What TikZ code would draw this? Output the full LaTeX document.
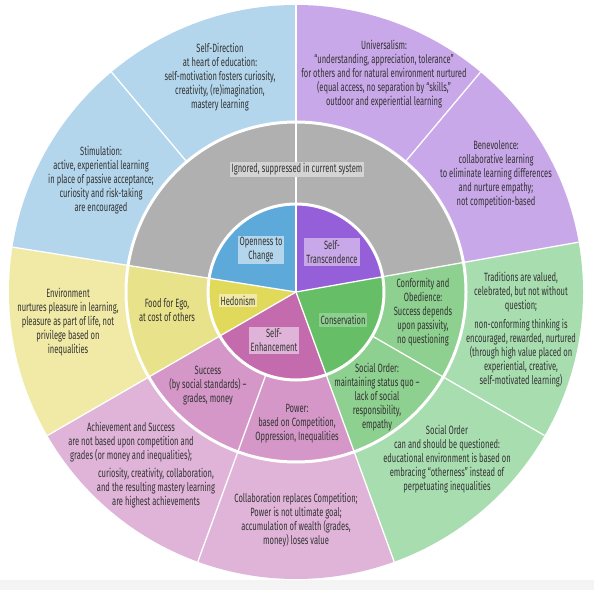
\documentclass[tikz,border=0pt]{standalone}
\usepackage{fontspec}
\setmainfont[FakeStretch=0.63]{Fira Sans}
\definecolor{blueO}{HTML}{B3D6EC}
\definecolor{blueI}{HTML}{5DA9DA}
\definecolor{grayM}{HTML}{B0B0B0}
\definecolor{grayBox}{HTML}{D4D4D4}
\definecolor{purO}{HTML}{C9A8E9}
\definecolor{purI}{HTML}{955FD9}
\definecolor{grnO}{HTML}{A8DDB0}
\definecolor{grnM}{HTML}{8DD08F}
\definecolor{grnI}{HTML}{66BF66}
\definecolor{yelO}{HTML}{F0EAA6}
\definecolor{yelM}{HTML}{E8E28A}
\definecolor{yelI}{HTML}{E1D95A}
\definecolor{pnkO}{HTML}{DFB4D8}
\definecolor{pnkM}{HTML}{D497C8}
\definecolor{pnkI}{HTML}{C46BAE}
\definecolor{txt}{HTML}{333333}
\definecolor{band}{HTML}{F4F4F4}
\newcommand{\ringsec}[5]{\fill[#1] (#2:#4) arc[start angle=#2, end angle=#3, radius=#4] -- (#3:#5) arc[start angle=#3, end angle=#2, radius=#5] -- cycle;}
\newcommand{\piesec}[4]{\fill[#1] (0,0) -- (#2:#4) arc[start angle=#2, end angle=#3, radius=#4] -- cycle;}
\begin{document}
\begin{tikzpicture}[x=1pt,y=1pt,
  lbl/.style={align=center, text=txt, font=\fontsize{12}{14}\selectfont, inner sep=1pt},
  boxlbl/.style={lbl, inner sep=2pt},
  sep/.style={white, line width=1.3pt},
  ringline/.style={white, line width=3pt}]
\useasboundingbox (0,0) rectangle (594,590);
\fill[white] (0,0) rectangle (594,590);
\fill[band] (0,0) rectangle (594,10);
\begin{scope}[shift={(296,298)}]
% outer ring
\ringsec{blueO}{90}{130}{170}{287}
\ringsec{blueO}{130}{171}{170}{287}
\ringsec{yelO}{171}{210}{170}{287}
\ringsec{pnkO}{210}{250}{170}{287}
\ringsec{pnkO}{250}{290}{170}{287}
\ringsec{grnO}{290}{330}{170}{287}
\ringsec{grnO}{330}{370}{170}{287}
\ringsec{purO}{10}{50}{170}{287}
\ringsec{purO}{50}{90}{170}{287}
% middle ring
\ringsec{grayM}{10}{171}{88}{170}
\ringsec{yelM}{171}{210}{88}{170}
\ringsec{pnkM}{210}{250}{88}{170}
\ringsec{pnkM}{250}{290}{88}{170}
\ringsec{grnM}{290}{330}{88}{170}
\ringsec{grnM}{330}{370}{88}{170}
% inner pie
\piesec{blueI}{90}{171}{88}
\piesec{yelI}{171}{210}{88}
\piesec{pnkI}{210}{290}{88}
\piesec{grnI}{290}{370}{88}
\piesec{purI}{10}{90}{88}
% separators
\foreach \a in {90,171,210,290,10} \draw[sep] (0,0) -- (\a:287);
\foreach \a in {250,330} \draw[sep] (\a:88) -- (\a:287);
\foreach \a in {130,50} \draw[sep] (\a:170) -- (\a:287);
\draw[ringline] (0,0) circle[radius=88];
\draw[ringline] (0,0) circle[radius=170];
\end{scope}
% outer texts
\node[lbl] (selfdir) at (220,513) {Self-Direction\\at heart of education:\\self-motivation fosters curiosity,\\creativity, (re)imagination,\\mastery learning};
\node[lbl] (stim) at (101,410) {Stimulation:\\active, experiential learning\\in place of passive acceptance;\\curiosity and risk-taking\\are encouraged};
\node[lbl] (univ) at (384,516) {Universalism:\\``understanding, appreciation, tolerance''\\for others and for natural environment nurtured\\(equal access, no separation by ``skills,''\\outdoor and experiential learning};
\node[lbl] (benev) at (496,416) {Benevolence:\\collaborative learning\\to eliminate learning differences\\and nurture empathy;\\not competition-based};
\node[lbl] (trad) at (521,260) {Traditions are valued,\\celebrated, but not without\\question;\\[5pt]non-conforming thinking is\\encouraged, rewarded, nurtured\\(through high value placed on\\experiential, creative,\\self-motivated learning)};
\node[lbl] (socout) at (447,131) {Social Order\\can and should be questioned:\\educational environment is based on\\embracing ``otherness'' instead of\\perpetuating inequalities};
\node[lbl] (collab) at (296,69.5) {Collaboration replaces Competition;\\Power is not ultimate goal;\\accumulation of wealth (grades,\\money) loses value};
\node[lbl] (achA) at (131,147.8) {Achievement and Success\\are not based upon competition and\\grades (or money and inequalities);};
\node[lbl] (achB) at (156,102.3) {curiosity, creativity, collaboration,\\and the resulting mastery learning\\are highest achievements};
\node[lbl] (env) at (68,268) {Environment\\nurtures pleasure in learning,\\pleasure as part of life, not\\privilege based on\\inequalities};
% middle texts
\node[boxlbl, fill=grayBox] (ignored) at (297,420.5) {Ignored, suppressed in current system};
\node[lbl] (food) at (167,279.7) {Food for Ego,\\at cost of others};
\node[lbl] (success) at (208,204) {Success\\(by social standards) --\\grades, money};
\node[lbl] (power) at (297,166.3) {Power:\\based on Competition,\\Oppression, Inequalities};
\node[lbl] (socmid) at (377,193.3) {Social Order:\\maintaining status quo --\\lack of social\\responsibility,\\empathy};
\node[lbl] (conf) at (423,277.5) {Conformity and\\Obedience:\\Success depends\\upon passivity,\\no questioning};
% inner texts
\node[boxlbl, fill=blueO] (open) at (261,340) {Openness to\\Change};
\node[boxlbl, fill=purO] (trans) at (332,338) {Self-\\Transcendence};
\node[boxlbl, fill=yelO] (hedon) at (238,289.5) {Hedonism};
\node[boxlbl, fill=pnkO] (enh) at (274,249.5) {Self-\\Enhancement};
\node[boxlbl, fill=grnM] (cons) at (343,270) {Conservation};
\end{tikzpicture}
\end{document}
